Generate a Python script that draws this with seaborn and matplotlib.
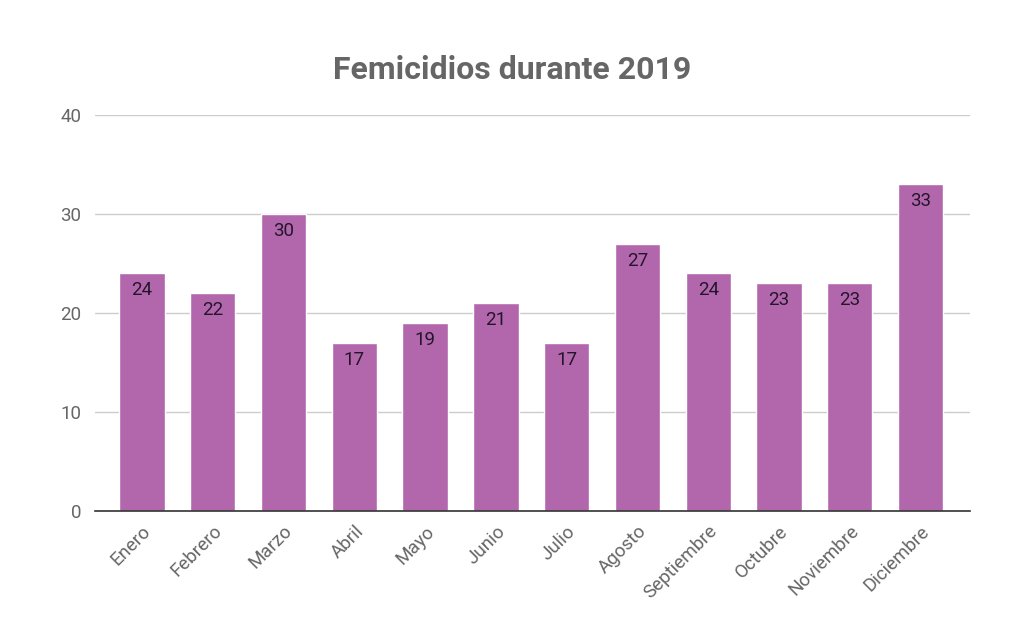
import matplotlib
matplotlib.use("Agg")
import matplotlib.pyplot as plt
import seaborn as sns
import pandas as pd

# Monthly data
meses = ["Enero", "Febrero", "Marzo", "Abril", "Mayo", "Junio", "Julio",
         "Agosto", "Septiembre", "Octubre", "Noviembre", "Diciembre"]
femicidios = [24, 22, 30, 17, 19, 21, 17, 27, 24, 23, 23, 33]

df = pd.DataFrame({"mes": meses, "femicidios": femicidios})

sns.set_style("white")
plt.rcParams['font.family'] = ['Roboto', 'DejaVu Sans']

fig = plt.figure(figsize=(10.24, 6.25), dpi=100)
ax = fig.add_axes([0.0928, 0.1824, 0.8542, 0.6336])

sns.barplot(data=df, x="mes", y="femicidios", color="#b267ad", saturation=1,
            width=0.64, ax=ax, zorder=3)

# value labels inside the top of each bar
for i, v in enumerate(femicidios):
    ax.text(i, v - 0.8, str(v), ha="center", va="top", fontsize=13.5,
            color="#24162a", zorder=4)

ax.set_ylim(0, 40)
ax.set_xlim(-0.664, 11.695)
ax.set_yticks([0, 10, 20, 30, 40])
ax.yaxis.grid(True, color="#cccccc", linewidth=1, zorder=0)
ax.set_xlabel("")
ax.set_ylabel("")

for s in ["top", "right", "left"]:
    ax.spines[s].set_visible(False)
ax.spines["bottom"].set_color("#333333")
ax.spines["bottom"].set_linewidth(1.2)
ax.spines["bottom"].set_zorder(5)

ax.tick_params(axis="y", length=0, labelsize=13.5, labelcolor="#666666", pad=10)
ax.tick_params(axis="x", length=0, labelsize=13.5, labelcolor="#666666", pad=8)
plt.setp(ax.get_xticklabels(), rotation=45, ha="right", rotation_mode="anchor")

fig.suptitle("Femicidios durante 2019", x=0.5, y=0.912, fontsize=23,
             fontweight="bold", color="#666666")

fig.savefig("out.png", dpi=100)
